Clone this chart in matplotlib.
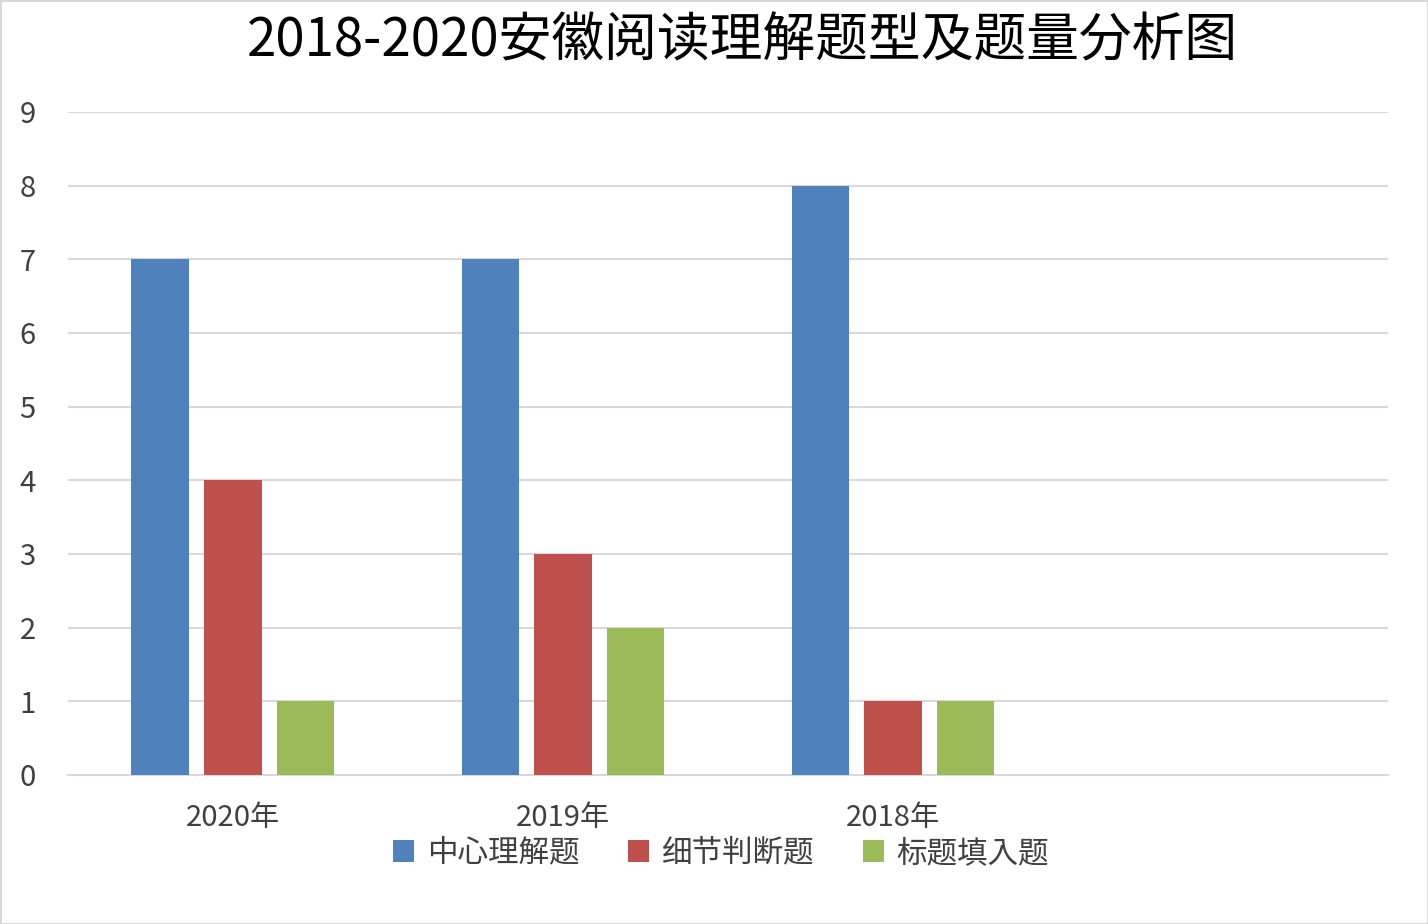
import matplotlib.pyplot as plt
import numpy as np

plt.rcParams['font.family'] = ['Noto Sans CJK JP', 'Noto Sans CJK SC', 'DejaVu Sans']

categories = ['2020年', '2019年', '2018年', '']
series_names = ['中心理解题', '细节判断题', '标题填入题']
center = [7, 7, 8, np.nan]
detail = [4, 3, 1, np.nan]
title_fill = [1, 2, 1, np.nan]
colors = ['#4f81bd', '#c0504d', '#9bbb59']

fig = plt.figure(figsize=(14.28, 9.24), dpi=100)
fig.patch.set_edgecolor('#d9d9d9')
fig.patch.set_linewidth(2)
ax = fig.add_axes([0.0476, 0.1613, 0.9244, 0.7175])

x = np.arange(len(categories))
w = 0.173
off = 0.221
for i, (vals, name) in enumerate(zip([center, detail, title_fill], series_names)):
    ax.bar(x + (i - 1) * off, vals, width=w, color=colors[i], label=name, zorder=3)

ax.set_xlim(-0.5, 3.5)
ax.set_ylim(0, 9)
ax.set_yticks(range(10))
ax.set_xticks(x)
ax.set_xticklabels(categories, fontsize=21, color='#404040')
ax.tick_params(axis='y', labelsize=21, colors='#404040', length=0, pad=35)
ax.tick_params(axis='x', length=0, pad=20)
for lbl in ax.get_yticklabels():
    lbl.set_horizontalalignment('left')
ax.grid(axis='y', color='#d9d9d9', linewidth=1.5, zorder=0)
for s in ['left', 'right', 'top']:
    ax.spines[s].set_visible(False)
ax.spines['bottom'].set_color('#d9d9d9')
ax.spines['bottom'].set_linewidth(1.5)

fig.suptitle('2018-2020安徽阅读理解题型及题量分析图', fontsize=38, y=0.985, x=0.52)
fig.legend(loc='lower center', bbox_to_anchor=(0.505, 0.03), ncol=3, frameon=False,
           fontsize=22, handlelength=0.7, handleheight=0.7, columnspacing=1.6,
           handletextpad=0.4, labelcolor='#404040')

fig.savefig('out.png', dpi=100, edgecolor=fig.get_edgecolor())
